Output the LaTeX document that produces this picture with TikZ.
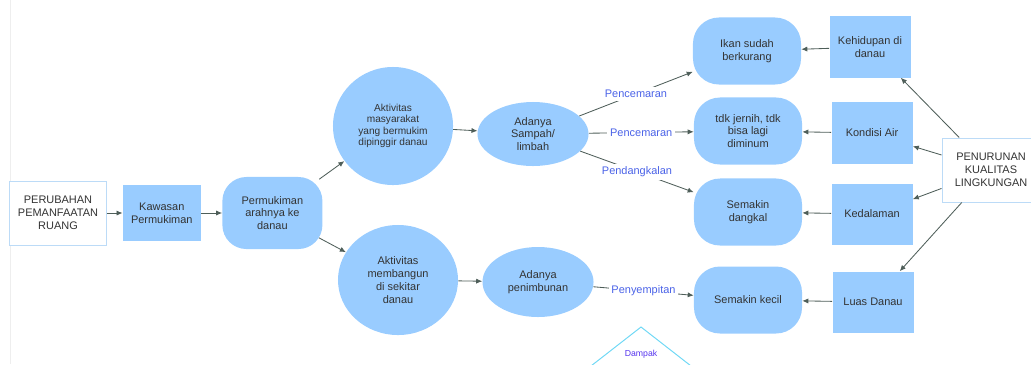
\documentclass[tikz,border=0pt]{standalone}
\usepackage{fontspec}
\setmainfont{Liberation Sans}
\usepackage{xcolor}
\definecolor{nodeBlue}{HTML}{99CCFF}
\definecolor{edgeBlue}{HTML}{BCDBF7}
\definecolor{textDark}{HTML}{333333}
\definecolor{lineDark}{HTML}{4E5E59}
\definecolor{labelBlue}{HTML}{4B63E8}
\definecolor{tagPurple}{HTML}{5533EE}
\definecolor{triCyan}{HTML}{6FD8F5}
\definecolor{pageGrey}{HTML}{EEEEEE}
\usepackage{tikz}
\usetikzlibrary{shapes,arrows.meta,positioning}
\newcommand{\diagFont}{\fontsize{7.8}{9.1}\selectfont}
\newcommand{\smallDiagFont}{\fontsize{7.2}{8.1}\selectfont}
\tikzset{%
  startBox/.style={%
    rectangle,
    draw=edgeBlue,
    line width=0.7pt,
    fill=white,
    text=textDark,
    font=\diagFont,
    minimum width=2.4cm,
    minimum height=1.6cm,
    inner sep=0pt,
    align=center
  },
  factorBox/.style={%
    rectangle,
    fill=nodeBlue,
    text=textDark,
    font=\diagFont,
    minimum width=2.025cm,
    minimum height=1.525cm,
    inner sep=0pt,
    align=center
  },
  effectBox/.style={%
    rectangle,
    rounded corners=0.65cm,
    fill=nodeBlue,
    text=textDark,
    font=\diagFont,
    minimum width=2.7cm,
    minimum height=1.675cm,
    inner sep=0pt,
    align=center
  },
  activityBubble/.style={%
    ellipse,
    fill=nodeBlue,
    text=textDark,
    font=\diagFont,
    minimum width=2.775cm,
    minimum height=1.6cm,
    inner sep=0pt,
    align=center
  },
  arrowLine/.style={%
    -{Latex[length=1.5mm,width=1.3mm]},
    line width=0.6pt,
    color=lineDark
  },
  edgeLabel/.style={%
    fill=white,
    text=labelBlue,
    font=\diagFont,
    inner sep=2pt
  }
}

\begin{document}
\begin{tikzpicture}[x=0.025cm, y=-0.025cm]
  \useasboundingbox (0,0) rectangle (1031,364);
  \draw[pageGrey, line width=0.5pt] (10,0) -- (10,364);

  \node[startBox] (perubahan) at (58,213) {PERUBAHAN\\PEMANFAATAN\\RUANG};
  \node[factorBox, minimum width=1.95cm, minimum height=1.4cm, right=0.4cm of perubahan] (kawasan) {Kawasan\\Permukiman};
  \node[effectBox, rounded corners=0.6cm, minimum width=2.5cm, minimum height=1.8cm, right=0.525cm of kawasan] (permukiman) {Permukiman\\arahnya ke\\danau};

  \node[activityBubble, minimum width=3cm, minimum height=2.95cm, font=\smallDiagFont] (masyarakat) at (393,126) {Aktivitas\\masyarakat\\yang bermukim\\dipinggir danau};
  \node[activityBubble, minimum width=3cm, minimum height=2.75cm] (membangun) at (398,280) {Aktivitas\\membangun\\di sekitar\\danau};
  \node[activityBubble] (sampah) at (533,134) {Adanya\\Sampah/\\limbah};
  \node[activityBubble, minimum height=1.75cm] (penimbunan) at (538,282) {Adanya\\penimbunan};

  \node[effectBox] (ikan) at (747,51) {Ikan sudah\\berkurang};
  \node[effectBox] (jernih) at (748,131) {tdk jernih, tdk\\bisa lagi\\diminum};
  \node[effectBox] (dangkal) at (748,212) {Semakin\\dangkal};
  \node[effectBox] (kecil) at (748,300) {Semakin kecil};

  \node[factorBox] (kehidupan) at (870,47) {Kehidupan di\\danau};
  \node[factorBox] (kondisi) at (872,133) {Kondisi Air};
  \node[factorBox] (kedalaman) at (872,214) {Kedalaman};
  \node[factorBox] (luas) at (873,302) {Luas Danau};

  \node[startBox, minimum width=2.45cm] (penurunan) at (991,170) {PENURUNAN\\KUALITAS\\LINGKUNGAN};

  \draw[arrowLine] (perubahan) -- (kawasan);
  \draw[arrowLine] (kawasan) -- (permukiman);
  \draw[arrowLine, shorten <=-3pt] (permukiman) -- (masyarakat);
  \draw[arrowLine, shorten <=-3pt] (permukiman) -- (membangun);
  \draw[arrowLine] (masyarakat) -- (sampah);
  \draw[arrowLine] (membangun) -- (penimbunan);

  \draw[arrowLine] (sampah) -- node[edgeLabel]{Pencemaran} (ikan.201);
  \draw[arrowLine] (sampah) -- node[edgeLabel]{Pencemaran} (jernih);
  \draw[arrowLine] (sampah) -- node[edgeLabel]{Pendangkalan} (dangkal.160);
  \draw[arrowLine] (penimbunan) -- node[edgeLabel]{Penyempitan} (kecil);

  \draw[arrowLine] (kehidupan) -- (ikan);
  \draw[arrowLine] (kondisi) -- (jernih);
  \draw[arrowLine] (kedalaman) -- (dangkal);
  \draw[arrowLine] (luas) -- (kecil);

  \draw[arrowLine] (penurunan) -- (kehidupan.-45);
  \draw[arrowLine] (penurunan) -- (kondisi.-18);
  \draw[arrowLine] (penurunan) -- (kedalaman.20);
  \draw[arrowLine] (penurunan) -- (luas.49);

  \node[text=tagPurple, font=\fontsize{6.2}{7}\selectfont] (dampak) at (641,354) {Dampak};
  \draw[triCyan, line width=0.7pt] (573,380) -- (641,327) -- (709,380);
\end{tikzpicture}
\end{document}
